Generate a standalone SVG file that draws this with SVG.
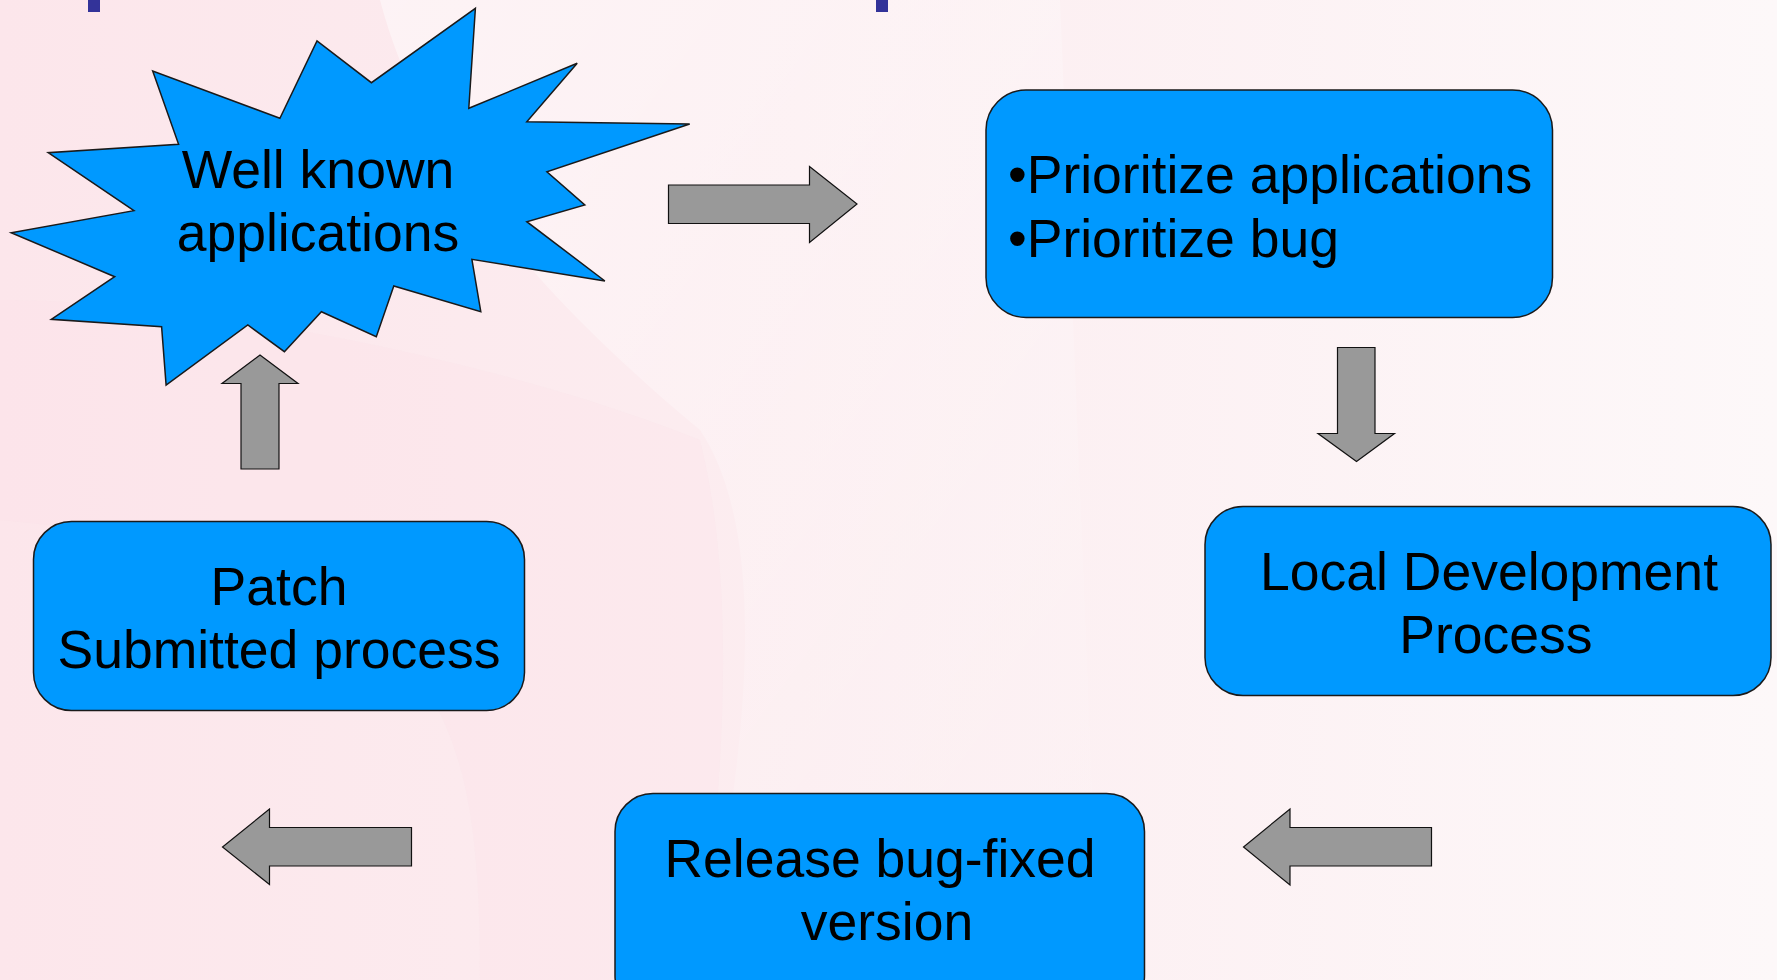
<svg xmlns="http://www.w3.org/2000/svg" width="1777" height="980" viewBox="0 0 1777 980">
<defs>
<linearGradient id="bg" x1="0" y1="0" x2="1" y2="0">
<stop offset="0" stop-color="#fce6eb"/>
<stop offset="0.45" stop-color="#fcedf0"/>
<stop offset="1" stop-color="#fdf8f9"/>
</linearGradient>
<linearGradient id="sw" x1="0" y1="0" x2="1" y2="1">
<stop offset="0" stop-color="#ffffff" stop-opacity="0.45"/>
<stop offset="1" stop-color="#ffffff" stop-opacity="0"/>
</linearGradient>
<style>
.box{fill:#0099ff;stroke:#1a1a1a;stroke-width:1.5}
.arr{fill:#999999;stroke:#111111;stroke-width:1.2;stroke-linejoin:miter}
.t{font-family:"Liberation Sans",Arial,sans-serif;font-size:53.5px;fill:#000000}
.c{text-anchor:middle}
.mark{fill:#333399}
</style>
</defs>
<rect x="0" y="0" width="1777" height="980" fill="url(#bg)"/>
<path d="M380,0 C420,150 520,280 700,430 C760,520 760,700 700,980 L1100,980 L1060,0 Z" fill="url(#sw)"/>
<path d="M0,300 C200,300 500,360 700,440 C740,600 720,800 700,980 L480,980 C480,700 440,560 0,520 Z" fill="#fbdfe6" opacity="0.25"/>
<rect class="mark" x="88" y="0" width="12" height="12"/>
<rect class="mark" x="876" y="0" width="12" height="12"/>

<g id="connectors">
<polygon class="arr" points="668.5,185 809.5,185 809.5,166.5 857,204 809.5,242.5 809.5,223.5 668.5,223.5"/>
<polygon class="arr" points="1337.5,347.5 1375,347.5 1375,433.5 1394.5,433.5 1356.5,461.5 1318,433.5 1337.5,433.5"/>
<polygon class="arr" points="1431.5,827.5 1290,827.5 1290,809 1243.5,847 1290,885 1290,866 1431.5,866"/>
<polygon class="arr" points="411.5,827.5 269.5,827.5 269.5,809 222.5,847 269.5,884.5 269.5,866 411.5,866"/>
<polygon class="arr" points="241,469 279,469 279,383.5 298,383.5 260,355 222,383.5 241,383.5"/>
</g>

<g id="well-known">
<polygon class="box" points="475.4,8.3 468.8,108.3 577.2,63.3 526.8,121.7 689.7,124 546.9,171.7 584.8,205 526.8,221.7 604.9,281 471.9,259.3 480.8,311.7 393.8,286 376.3,336.7 321.4,311.7 284.4,351.7 247.8,325 166.1,385 161.6,326.7 51.3,319.3 114.7,276.7 11.2,232.7 133.9,210.7 48.2,152.7 178.6,144.3 152.7,71 279.9,118.3 317,41 371.4,82.7"/>
<text class="t c" x="318" y="188">Well known</text>
<text class="t c" x="318" y="250.5">applications</text>
</g>

<g id="prioritize">
<rect class="box" x="986" y="90" width="566.5" height="227.5" rx="40" ry="40"/>
<text class="t" x="1008" y="193">•Prioritize applications</text>
<text class="t" x="1008" y="257">•Prioritize bug</text>
</g>

<g id="local-dev">
<rect class="box" x="1205" y="506.5" width="566" height="189" rx="38" ry="38"/>
<text class="t c" x="1489" y="590">Local Development</text>
<text class="t c" x="1496" y="653">Process</text>
</g>

<g id="release">
<rect class="box" x="615" y="793.5" width="529.5" height="220" rx="38" ry="38"/>
<text class="t c" x="880" y="876.5">Release bug-fixed</text>
<text class="t c" x="887" y="940">version</text>
</g>

<g id="patch">
<rect class="box" x="33.5" y="521.5" width="491" height="189" rx="38" ry="38"/>
<text class="t c" x="279" y="605">Patch</text>
<text class="t c" x="279" y="668">Submitted process</text>
</g>
</svg>
